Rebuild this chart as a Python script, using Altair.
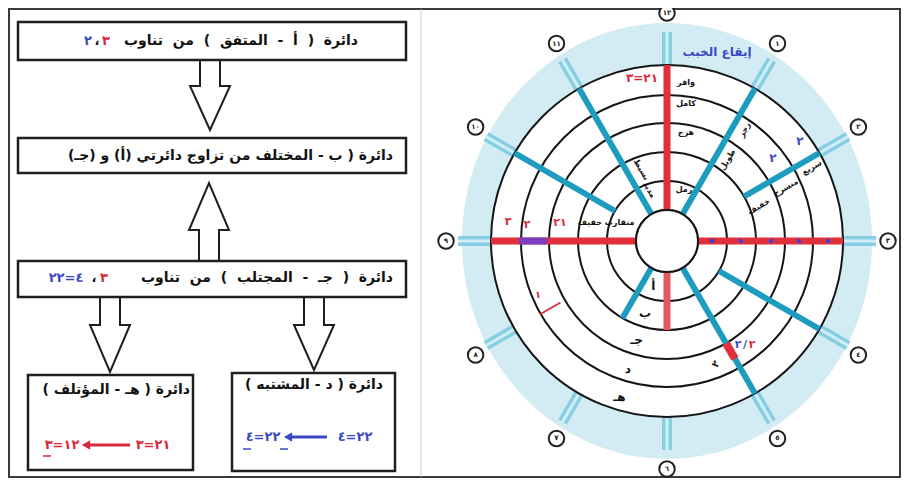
import altair as alt
import pandas as pd

FONT = "DejaVu Sans"
RLM = "\u200f"
LRO, PDF = "\u202d", "\u202c"
SP2 = "\u00a0\u00a0"

# ---------------- picture frame ----------------
FRAME_X0, FRAME_X1, FRAME_Y0, FRAME_Y1 = 9, 900, 9, 477
SEP_X = 421

# ---------------- flow chart (left) ----------------
BOX_X0 = [18, 18, 18, 28, 232]
BOX_X1 = [406, 406, 406, 193, 395]
BOX_Y0 = [22, 138, 261, 375, 373]
BOX_Y1 = [60, 173, 297, 470, 471]

ARROW_CX = [210, 209, 110, 314]
ARROW_Y0 = [60, 261, 297, 297]    # shaft start
ARROW_YH = [86, 230, 325, 325]    # head base
ARROW_YT = [130, 183, 372, 370]   # tip
ARROW_SHAFT = 10
ARROW_HEAD = 20

# right aligned black lines: text, right end x, y
LINE_TEXT = [
    "دائرة ( أ - المتفق ) من تناوب".replace(" ", SP2),
    "دائرة ( ب - المختلف من تزاوج دائرتي (أ) و (جـ)" + RLM,
    "دائرة ( جـ - المجتلب ) من تناوب".replace(" ", SP2),
    "دائرة ( هـ - المؤتلف )" + RLM,
    "دائرة ( د - المشتبه )" + RLM,
]
LINE_X = [358, 393, 393, 190, 383]
LINE_Y = [41, 156, 278, 390, 385]

# coloured pieces (centred)
RED, BLUE, BLACK = "#d8283a", "#3b48c4", "#111111"
PIECE_TEXT = ["٣", "،", "٢",
              "٣", "،", LRO + "٢٢=٤" + PDF,
              LRO + "٣=١٢" + PDF, LRO + "٣=٢١" + PDF,
              LRO + "٤=٢٢" + PDF, LRO + "٤=٢٢" + PDF]
PIECE_X = [106, 97, 88, 104, 94, 66, 62, 153, 263, 355]
PIECE_Y = [41, 41, 41, 278, 278, 278, 445, 445, 437, 437]
PIECE_COL = [RED, BLACK, BLUE, RED, BLACK, BLUE, RED, RED, BLUE, BLUE]

# formula arrows (pointing left)
FARROW_X1 = [86, 288]
FARROW_X2 = [130, 327]
FARROW_Y = [445, 437]
FARROW_COL = [RED, BLUE]
# underlines
ULINE_X1 = [43, 243, 280]
ULINE_X2 = [51, 251, 288]
ULINE_Y = [456, 449, 449]
ULINE_COL = [RED, BLUE, BLUE]

# ---------------- circle diagram (right) ----------------
CX, CY = 667, 241
RING_R = [31, 60, 89, 118, 146, 176]
HALO_RX, HALO_RY = 205, 218
NUM_RX, NUM_RY = 221, 228

SPOKE_ANGLE = [30 * k for k in range(1, 13)]
SPOKE_LABEL = ["١", "٢", "٣", "٤", "٥", "٦", "٧", "٨", "٩", "١٠", "١١", "١٢"]
STUB_R1, STUB_R2 = 176, 209

TEAL, RED2, PINK, PURPLE = "#1e9cbf", "#e0303c", "#e4585e", "#7a3fc0"
SEG_ANGLE = [30, 60, 120, 150, 210, 300, 330, 0, 90, 270, 180, 150, 270, 240]
SEG_R1 = [31, 89, 60, 31, 31, 60, 31, 31, 31, 31, 31, 118, 120, 123]
SEG_R2 = [176, 176, 176, 176, 89, 176, 176, 176, 176, 176, 89, 136, 148, 147]
SEG_COL = [TEAL] * 7 + [RED2, RED2, RED2, PINK, RED2, PURPLE, RED2]
SEG_W = [6] * 7 + [7, 7, 7, 7, 8, 7, 2]

DOT_R = [45, 74, 104, 132, 161]
DOT_ANGLE = 90

RING_LETTER = ["أ", "ب", "جـ", "د", "هـ"]
RING_MID = [47, 75, 104, 134, 163]
RING_LETTER_ANGLE = 197

# small annotation texts: text, x, y, colour, size, angle
ANN_TEXT = ["إيقاع الخبب", "وافر", "كامل", "هزج", "رمل",
            "بسيط", "مديد", "رجز", "طويل", "سريع", "منسرح", "خفيف",
            "٣", "٢", LRO + "٢١" + PDF, "متقارب خفيف",
            "٢", "٢", "٢", "/", "٢", "٢", "١", LRO + "٣=٢١" + PDF]
ANN_X = [717, 686, 686, 686, 684,
         641, 649, 745, 728, 812, 786, 759,
         508, 527, 560, 606,
         773, 800, 738, 745, 752, 716, 538, 642]
ANN_Y = [52, 83, 104, 133, 190,
         170, 190, 130, 160, 168, 188, 207,
         222, 225, 223, 223,
         158, 141, 345, 345, 345, 364, 295, 78]
ANN_COL = [BLUE, BLACK, BLACK, BLACK, BLACK,
           BLACK, BLACK, BLACK, BLACK, BLACK, BLACK, BLACK,
           RED, RED, RED, BLACK,
           BLUE, BLUE, BLUE, BLUE, RED, BLACK, RED, RED]
ANN_SIZE = [12, 8, 8, 8, 8,
            8, 8, 8, 8, 8, 8, 8,
            11, 11, 11, 8,
            12, 12, 11, 11, 11, 10, 10, 12]
ANN_ANGLE = [0, 0, 0, 0, 0,
             60, 60, 300, 300, 330, 330, 330,
             0, 0, 0, 0,
             0, 0, 0, 0, 0, 300, 0, 0]
ANN_ULINE_X1, ANN_ULINE_X2, ANN_ULINE_Y = [796], [804], [151]

# ======================================================================
XS = alt.Scale(domain=[8, 901], nice=False, zero=False)
YS = alt.Scale(domain=[8, 478], nice=False, zero=False, reverse=True)


def X(f):
    return alt.X(f, type="quantitative", scale=XS, axis=None)


def Y(f):
    return alt.Y(f, type="quantitative", scale=YS, axis=None)


POLAR_X = "datum.cx + datum.r*sin(datum.a*PI/180)"
POLAR_Y = "datum.cy - datum.r*cos(datum.a*PI/180)"

# frame
frame = alt.Chart(pd.DataFrame({"x0": [FRAME_X0], "x1": [FRAME_X1], "y0": [FRAME_Y0], "y1": [FRAME_Y1]})).mark_rect(
    fill=None, stroke="#3a3a3a", strokeWidth=2
).encode(x=X("x0"), x2="x1", y=Y("y0"), y2="y1")
sep = alt.Chart(pd.DataFrame({"x": [SEP_X], "y0": [FRAME_Y0], "y1": [FRAME_Y1]})).mark_rule(
    color="#c8c8c8", strokeWidth=1
).encode(x=X("x"), y=Y("y0"), y2="y1")

boxes = alt.Chart(pd.DataFrame({"x0": BOX_X0, "x1": BOX_X1, "y0": BOX_Y0, "y1": BOX_Y1})).mark_rect(
    fill="white", stroke="#1e1e1e", strokeWidth=2.5
).encode(x=X("x0"), x2="x1", y=Y("y0"), y2="y1")

arrow_rows = []
for i, (cx, y0, yh, yt) in enumerate(zip(ARROW_CX, ARROW_Y0, ARROW_YH, ARROW_YT)):
    pts = [(cx - ARROW_SHAFT, y0), (cx - ARROW_SHAFT, yh), (cx - ARROW_HEAD, yh), (cx, yt),
           (cx + ARROW_HEAD, yh), (cx + ARROW_SHAFT, yh), (cx + ARROW_SHAFT, y0)]
    for j, (px, py) in enumerate(pts):
        arrow_rows.append({"id": i, "o": j, "x": px, "y": py})
arrows = alt.Chart(pd.DataFrame(arrow_rows)).mark_line(color="#1e1e1e", strokeWidth=2, strokeJoin="miter").encode(
    x=X("x"), y=Y("y"), detail="id:N", order="o:Q"
)

lines = alt.Chart(pd.DataFrame({"t": LINE_TEXT, "x": LINE_X, "y": LINE_Y})).mark_text(
    font=FONT, fontSize=14, fontWeight="bold", align="right", color=BLACK
).encode(x=X("x"), y=Y("y"), text="t:N")

pieces = alt.Chart(pd.DataFrame({"t": PIECE_TEXT, "x": PIECE_X, "y": PIECE_Y, "c": PIECE_COL})).mark_text(
    font=FONT, fontSize=13, fontWeight="bold"
).encode(x=X("x"), y=Y("y"), text="t:N", color=alt.Color("c:N", scale=None))

farrow = alt.Chart(pd.DataFrame({"x1": FARROW_X1, "x2": FARROW_X2, "y": FARROW_Y, "c": FARROW_COL})).mark_rule(
    strokeWidth=3
).encode(x=X("x1"), x2="x2", y=Y("y"), color=alt.Color("c:N", scale=None))
fhead = alt.Chart(pd.DataFrame({"x": FARROW_X1, "y": FARROW_Y, "c": FARROW_COL})).mark_point(
    shape="triangle-left", filled=True, size=90, opacity=1
).encode(x=X("x"), y=Y("y"), color=alt.Color("c:N", scale=None))
ulines = alt.Chart(pd.DataFrame({"x1": ULINE_X1 + ANN_ULINE_X1, "x2": ULINE_X2 + ANN_ULINE_X2,
                                 "y": ULINE_Y + ANN_ULINE_Y, "c": ULINE_COL + [BLUE]})).mark_rule(
    strokeWidth=1.5
).encode(x=X("x1"), x2="x2", y=Y("y"), color=alt.Color("c:N", scale=None))

# circle diagram
ELLIPSE = "M-1,0A1,{k},0,1,1,1,0A1,{k},0,1,1,-1,0Z".format(k=round(HALO_RY / HALO_RX, 4))
halo = alt.Chart(pd.DataFrame({"cx": [CX], "cy": [CY], "rx": [HALO_RX]})).transform_calculate(
    s="4*datum.rx*datum.rx"
).mark_point(shape=ELLIPSE, filled=True, color="#d3ecf4", opacity=1, strokeWidth=0).encode(
    x=X("cx"), y=Y("cy"), size=alt.Size("s:Q", scale=None)
)
disk = alt.Chart(pd.DataFrame({"cx": [CX], "cy": [CY], "r": [RING_R[-1]]})).transform_calculate(
    s="4*datum.r*datum.r"
).mark_point(shape="circle", filled=True, color="white", opacity=1, strokeWidth=0).encode(
    x=X("cx"), y=Y("cy"), size=alt.Size("s:Q", scale=None)
)

stub_df = pd.DataFrame({"a": SPOKE_ANGLE, "r1": STUB_R1, "r2": STUB_R2, "cx": CX, "cy": CY})


def seg_chart(df, color=None, width=None):
    c = alt.Chart(df).transform_calculate(
        x1="datum.cx + datum.r1*sin(datum.a*PI/180)",
        y1="datum.cy - datum.r1*cos(datum.a*PI/180)",
        x2="datum.cx + datum.r2*sin(datum.a*PI/180)",
        y2="datum.cy - datum.r2*cos(datum.a*PI/180)",
    )
    if color is not None:
        return c.mark_rule(color=color, strokeWidth=width).encode(x=X("x1:Q"), y=Y("y1:Q"), x2="x2:Q", y2="y2:Q")
    return c.mark_rule().encode(
        x=X("x1:Q"), y=Y("y1:Q"), x2="x2:Q", y2="y2:Q",
        color=alt.Color("col:N", scale=None), strokeWidth=alt.StrokeWidth("w:Q", scale=None)
    )


stubs_outer = seg_chart(stub_df, "#86cfe2", 10)
stubs_inner = seg_chart(stub_df, "#d2eff7", 3)

rings = alt.Chart(pd.DataFrame({"r": RING_R, "cx": CX, "cy": CY})).transform_calculate(
    s="4*datum.r*datum.r"
).mark_point(shape="circle", filled=False, color="#151515", strokeWidth=2, opacity=1).encode(
    x=X("cx"), y=Y("cy"), size=alt.Size("s:Q", scale=None)
)

segs = seg_chart(pd.DataFrame({"a": SEG_ANGLE, "r1": SEG_R1, "r2": SEG_R2, "col": SEG_COL, "w": SEG_W,
                               "cx": CX, "cy": CY}))

dots = alt.Chart(pd.DataFrame({"r": DOT_R, "a": DOT_ANGLE, "cx": CX, "cy": CY})).transform_calculate(
    px=POLAR_X, py=POLAR_Y
).mark_point(shape="circle", filled=True, color="#4a3cd0", size=22, opacity=1).encode(x=X("px:Q"), y=Y("py:Q"))

inner_disk = alt.Chart(pd.DataFrame({"cx": [CX], "cy": [CY], "r": [RING_R[0]]})).transform_calculate(
    s="4*datum.r*datum.r"
).mark_point(shape="circle", filled=True, fill="white", stroke="#151515", strokeWidth=2, opacity=1).encode(
    x=X("cx"), y=Y("cy"), size=alt.Size("s:Q", scale=None)
)

num_df = pd.DataFrame({"a": SPOKE_ANGLE, "t": SPOKE_LABEL, "cx": CX, "cy": CY, "rx": NUM_RX, "ry": NUM_RY})
num_base = alt.Chart(num_df).transform_calculate(
    px="datum.cx + datum.rx*sin(datum.a*PI/180)",
    py="datum.cy - datum.ry*cos(datum.a*PI/180)",
)
num_circ = num_base.mark_point(shape="circle", filled=True, fill="white", stroke="#222", strokeWidth=2,
                               size=240, opacity=1).encode(x=X("px:Q"), y=Y("py:Q"))
num_txt = num_base.mark_text(font=FONT, fontSize=7, fontWeight="bold", color="#222").encode(
    x=X("px:Q"), y=Y("py:Q"), text="t:N")

letters = alt.Chart(pd.DataFrame({"t": RING_LETTER, "r": RING_MID, "a": RING_LETTER_ANGLE,
                                  "cx": CX, "cy": CY})).transform_calculate(
    px=POLAR_X, py=POLAR_Y
).mark_text(font=FONT, fontSize=12, fontWeight="bold", color="#111").encode(
    x=X("px:Q"), y=Y("py:Q"), text="t:N")

ann = alt.Chart(pd.DataFrame({"t": ANN_TEXT, "x": ANN_X, "y": ANN_Y, "c": ANN_COL,
                              "s": ANN_SIZE, "g": ANN_ANGLE})).mark_text(font=FONT, fontWeight="bold").encode(
    x=X("x"), y=Y("y"), text="t:N", color=alt.Color("c:N", scale=None),
    size=alt.Size("s:Q", scale=None), angle=alt.Angle("g:Q", scale=None)
)

chart = alt.layer(
    frame, sep, boxes, arrows, lines, pieces, farrow, fhead, ulines,
    halo, disk, stubs_outer, stubs_inner, rings, segs, inner_disk, dots, num_circ, num_txt, letters, ann
).properties(
    width=893, height=470, padding=0, autosize=alt.AutoSizeParams(type="none"), background="white"
).configure_view(stroke=None)

chart.save("out.html", embed_options={"renderer": "svg", "actions": False})
